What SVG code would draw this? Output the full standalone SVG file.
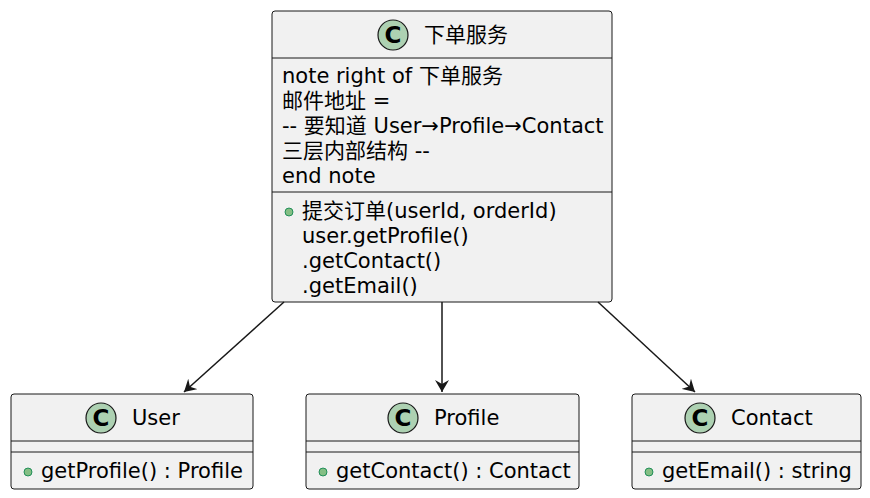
<svg xmlns="http://www.w3.org/2000/svg" width="870" height="498" viewBox="0 0 870 498">
<style>
.box{fill:#F1F1F1;stroke:#181818;stroke-width:1}
.ln{stroke:#181818;stroke-width:1}
text{font-family:"DejaVu Sans","Noto Sans CJK SC",sans-serif;font-size:21px;fill:#000}
.c{fill:#ADD1B2;stroke:#181818;stroke-width:1.2}
.ct{font-family:"DejaVu Sans",sans-serif;font-weight:bold;font-size:23px;text-anchor:middle}
.pub{fill:#84BE84;stroke:#038048;stroke-width:0.8}
.e{stroke:#181818;stroke-width:1.5;fill:none}
</style>
<defs><marker id="a" markerWidth="14" markerHeight="14" refX="12" refY="7" orient="auto" markerUnits="userSpaceOnUse"><path d="M0,0 L12,7 L0,14 L4,7 Z" fill="#181818"/></marker></defs>
<g id="order">
<rect class="box" x="272" y="11" width="340" height="291" rx="3"/>
<circle class="c" cx="393" cy="35" r="15"/><text class="ct" x="393" y="43">C</text>
<text x="424" y="42">下单服务</text>
<line class="ln" x1="272" y1="58" x2="612" y2="58"/>
<text x="282" y="83">note right of 下单服务</text>
<text x="282" y="108">邮件地址 =</text>
<text x="282" y="133">-- 要知道 User→Profile→Contact</text>
<text x="282" y="158">三层内部结构 --</text>
<text x="282" y="183">end note</text>
<line class="ln" x1="272" y1="192" x2="612" y2="192"/>
<circle class="pub" cx="289" cy="212" r="4"/>
<text x="302" y="218">提交订单(userId, orderId)</text>
<text x="302" y="243">user.getProfile()</text>
<text x="302" y="268">.getContact()</text>
<text x="302" y="293">.getEmail()</text>
</g>
<g id="user">
<rect class="box" x="11" y="394" width="242" height="95" rx="3"/>
<circle class="c" cx="101" cy="418" r="15"/><text class="ct" x="101" y="426">C</text>
<text x="132" y="425">User</text>
<line class="ln" x1="11" y1="441" x2="253" y2="441"/>
<line class="ln" x1="11" y1="452" x2="253" y2="452"/>
<circle class="pub" cx="28" cy="472" r="4"/>
<text x="41" y="478">getProfile() : Profile</text>
</g>
<g id="profile">
<rect class="box" x="306" y="394" width="273" height="95" rx="3"/>
<circle class="c" cx="403" cy="418" r="15"/><text class="ct" x="403" y="426">C</text>
<text x="434" y="425">Profile</text>
<line class="ln" x1="306" y1="441" x2="579" y2="441"/>
<line class="ln" x1="306" y1="452" x2="579" y2="452"/>
<circle class="pub" cx="323" cy="472" r="4"/>
<text x="336" y="478">getContact() : Contact</text>
</g>
<g id="contact">
<rect class="box" x="632" y="394" width="229" height="95" rx="3"/>
<circle class="c" cx="700" cy="418" r="15"/><text class="ct" x="700" y="426">C</text>
<text x="731" y="425">Contact</text>
<line class="ln" x1="632" y1="441" x2="861" y2="441"/>
<line class="ln" x1="632" y1="452" x2="861" y2="452"/>
<circle class="pub" cx="649" cy="472" r="4"/>
<text x="662" y="478">getEmail() : string</text>
</g>
<g id="edges">
<line class="e" x1="284" y1="302" x2="184" y2="392" marker-end="url(#a)"/>
<line class="e" x1="442" y1="302" x2="442" y2="392" marker-end="url(#a)"/>
<line class="e" x1="598" y1="302" x2="695" y2="392" marker-end="url(#a)"/>
</g>
</svg>
